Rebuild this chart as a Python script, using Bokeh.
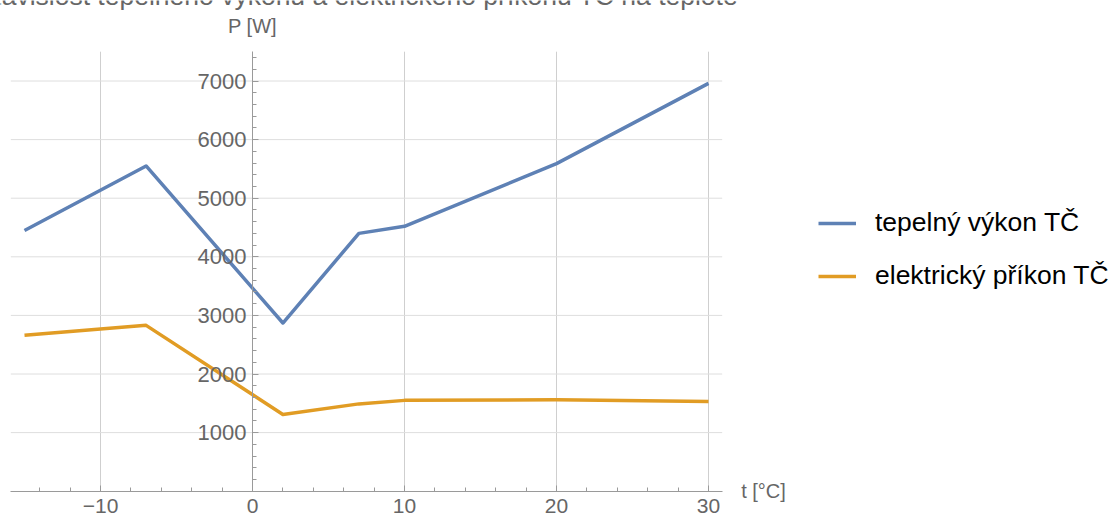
from bokeh.plotting import figure
from bokeh.models import Range1d, FixedTicker, Label, Legend, LegendItem
from bokeh.embed import file_html
from bokeh.resources import INLINE

# data
teplota = [-15, -7, 2, 7, 10, 20, 30]
tepelny_vykon = [4450, 5550, 2870, 4400, 4520, 5590, 6960]
elektricky_prikon = [2660, 2830, 1310, 1490, 1550, 1560, 1530]

x_major = [-10, 0, 10, 20, 30]
x_minor = list(range(-14, 31, 2))
y_major = [1000, 2000, 3000, 4000, 5000, 6000, 7000]
y_minor = list(range(200, 7500, 200))

title_text = "Závislost tepelného výkonu a elektrického příkonu TČ na teplotě"
series_names = ["tepelný výkon TČ", "elektrický příkon TČ"]
x_label = "t [°C]"
y_label = "P [W]"

# plotted area (Mathematica-like axes crossing at the origin)
X_START, X_END = -15.9, 30.9
Y_START, Y_END = 0, 7500

# canvas geometry: the whole canvas is the frame
W, H = 1120, 520
X0_PX, PX_PER_X = 252.0, 15.2      # screen x of t=0, px per degree
Y0_PX, PX_PER_Y = 490.7, 0.0586    # screen y of P=0, px per watt

FONT = "Liberation Sans"
AXIS_COLOR = "#9a9a9a"
LABEL_COLOR = "#666666"
GRID_V = "#cfcfcf"
GRID_H = "#dedede"
BLUE = "#5E81B5"
ORANGE = "#E19C24"

p = figure(width=W, height=H,
           min_border_left=0, min_border_right=0, min_border_top=0, min_border_bottom=0,
           x_range=Range1d(-X0_PX / PX_PER_X, (W - X0_PX) / PX_PER_X),
           y_range=Range1d(-(H - Y0_PX) / PX_PER_Y, Y0_PX / PX_PER_Y),
           output_backend="svg", toolbar_location=None)
p.outline_line_color = None
p.background_fill_color = "white"
p.border_fill_color = "white"
p.xgrid.visible = False
p.ygrid.visible = False

# grid lines limited to the plotted area
gx = [v for v in x_major if v != 0]
p.segment(x0=gx, y0=[Y_START] * len(gx), x1=gx, y1=[Y_END] * len(gx),
          line_color=GRID_V, line_width=1)
p.segment(x0=[X_START] * len(y_major), y0=y_major, x1=[X_END] * len(y_major), y1=y_major,
          line_color=GRID_H, line_width=1)

xt = FixedTicker(ticks=x_major, minor_ticks=x_minor)
yt = FixedTicker(ticks=y_major, minor_ticks=y_minor)
p.xaxis.ticker = xt
p.yaxis.ticker = yt
p.xaxis.bounds = (X_START, X_END)
p.yaxis.bounds = (Y_START, Y_END)

for ax in (p.xaxis[0], p.yaxis[0]):
    ax.fixed_location = 0
    ax.axis_line_color = AXIS_COLOR
    ax.major_tick_line_color = AXIS_COLOR
    ax.minor_tick_line_color = AXIS_COLOR
    ax.major_tick_in = 6
    ax.major_tick_out = 0
    ax.minor_tick_in = 4
    ax.minor_tick_out = 0
    ax.major_label_text_font = FONT
    ax.major_label_text_font_size = "22px"
    ax.major_label_text_color = LABEL_COLOR

p.xaxis.major_label_text_font_size = "21px"
p.xaxis.major_label_standoff = 8
p.yaxis.major_label_standoff = 6
p.xaxis.major_label_overrides = {v: (f"\u2212{abs(v)}" if v < 0 else str(v)) for v in x_major}

r1 = p.line(teplota, tepelny_vykon, line_color=BLUE, line_width=3.5, line_join="round")
r2 = p.line(teplota, elektricky_prikon, line_color=ORANGE, line_width=3.5, line_join="round")

legend = Legend(items=[LegendItem(label=series_names[0], renderers=[r1]),
                       LegendItem(label=series_names[1], renderers=[r2])],
                location=(818, 229), orientation="vertical",
                border_line_color=None, background_fill_alpha=0,
                label_text_font=FONT, label_text_font_size="26.5px",
                label_text_color="black",
                glyph_width=38, glyph_height=30, label_height=30,
                label_standoff=19, spacing=22, padding=10, margin=0)
p.add_layout(legend, "center")

p.add_layout(Label(x=0, y=Y_END, y_offset=26, text=y_label,
                   text_align="center", text_baseline="alphabetic",
                   text_font=FONT, text_font_size="20px", text_color=LABEL_COLOR))
p.add_layout(Label(x=X_END, y=0, x_offset=19, text=x_label,
                   text_align="left", text_baseline="middle",
                   text_font=FONT, text_font_size="20px", text_color=LABEL_COLOR))
p.add_layout(Label(x=X_END, y=Y_END, x_offset=16, y_offset=56, text=title_text,
                   text_align="right", text_baseline="alphabetic",
                   text_font=FONT, text_font_size="26.5px", text_color=LABEL_COLOR))

open("out.html", "w").write(file_html(p, INLINE))
